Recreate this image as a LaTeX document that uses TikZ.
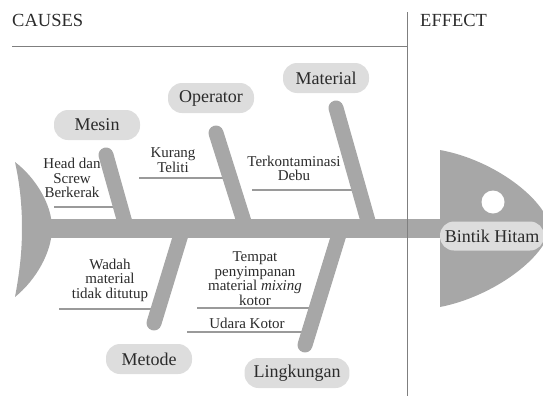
\documentclass[tikz,border=0pt]{standalone}
\usepackage{fontspec}
\setmainfont{Liberation Serif}
\usepackage{tikz}

\definecolor{bonegray}{HTML}{A7A7A7}
\definecolor{boxgray}{HTML}{DDDDDD}
\definecolor{rulegray}{HTML}{7F7F7F}
\definecolor{twiggray}{HTML}{9A9A9A}
\definecolor{inkgray}{HTML}{2B2B2B}

\begin{document}
\begin{tikzpicture}[x=1pt,y=-1pt,
  bone/.style={line width=15pt,bonegray,line cap=round},
  twig/.style={line width=1.8pt,twiggray},
  catbox/.style={fill=boxgray,rounded corners=14pt,minimum width=86pt,minimum height=30pt,
    inner xsep=9pt,font=\fontsize{18}{20}\selectfont,text=inkgray},
  causetext/.style={align=center,inner sep=0pt,font=\fontsize{15}{14.5}\selectfont,text=inkgray},
  heading/.style={anchor=base west,inner sep=0pt,font=\fontsize{18.5}{20}\selectfont,text=inkgray}]
  \clip (0,0) rectangle (543,399);

  \fill[bonegray] (15,162) .. controls (36,178) and (52,205) .. (52,228)
    .. controls (52,252) and (36,280) .. (15,297)
    .. controls (20,270) and (22,250) .. (22,228)
    .. controls (22,206) and (20,185) .. (15,162) -- cycle;
  \fill[bonegray] (440,150) .. controls (495,160) and (546,200) .. (550,228)
    .. controls (546,258) and (492,297) .. (440,307) -- cycle;
  \fill[white] (493,202) circle (11.5);

  \coordinate (tail) at (40,228.5);
  \coordinate (snout) at (445,228.5);
  \draw[line width=19pt,bonegray] (tail) -- (snout);

  \coordinate (mesin-tip) at (106,155);
  \coordinate (mesin-root) at (126.5,228);
  \coordinate (operator-tip) at (216,133);
  \coordinate (operator-root) at (246,228);
  \coordinate (material-tip) at (336,108);
  \coordinate (material-root) at (370,228);
  \coordinate (metode-tip) at (154,323);
  \coordinate (metode-root) at (183,228);
  \coordinate (lingkungan-tip) at (305,345);
  \coordinate (lingkungan-root) at (341,228);

  \coordinate (head-a) at (54,207);
  \coordinate (head-b) at (121,207);
  \coordinate (teliti-a) at (139,178);
  \coordinate (teliti-b) at (230,178);
  \coordinate (debu-a) at (252,190);
  \coordinate (debu-b) at (359,190);
  \coordinate (wadah-a) at (59,309);
  \coordinate (wadah-b) at (158,309);
  \coordinate (tempat-a) at (197,308);
  \coordinate (tempat-b) at (316,308);
  \coordinate (udara-a) at (187,332);
  \coordinate (udara-b) at (309,332);
  \draw[twig] (head-a) -- (head-b);
  \draw[twig] (teliti-a) -- (teliti-b);
  \draw[twig] (debu-a) -- (debu-b);
  \draw[twig] (wadah-a) -- (wadah-b);
  \draw[twig] (tempat-a) -- (tempat-b);
  \draw[twig] (udara-a) -- (udara-b);

  \draw[bone] (mesin-tip) -- (mesin-root);
  \draw[bone] (operator-tip) -- (operator-root);
  \draw[bone] (material-tip) -- (material-root);
  \draw[bone] (metode-tip) -- (metode-root);
  \draw[bone] (lingkungan-tip) -- (lingkungan-root);

  \draw[rulegray,line width=1pt] (12,46) -- (407,46);
  \draw[rulegray,line width=1pt] (407,12) -- (407,396);

  \node[catbox] (mesin) at (97,125) {Mesin};
  \node[catbox] (operator) at (211,98) {Operator};
  \node[catbox] (material) at (326,78) {Material};
  \node[catbox] (metode) at (149,359) {Metode};
  \node[catbox] (lingkungan) at (297,373) {Lingkungan};
  \node[catbox,minimum width=104pt,minimum height=29pt,inner xsep=3pt] (bintik) at (492,236) {Bintik Hitam};

  \node[causetext] (head) at (72,178) {Head dan\\Screw\\Berkerak};
  \node[causetext] (teliti) at (173,160) {Kurang\\Teliti};
  \node[causetext] (debu) at (294,168.5) {Terkontaminasi\\Debu};
  \node[causetext] (wadah) at (110,280) {Wadah\\material\\tidak ditutup};
  \node[causetext] (tempat) at (255,278.5) {Tempat\\penyimpanan\\material \textit{mixing}\\kotor};
  \node[causetext] (udara) at (247,323) {Udara Kotor};

  \node[heading] (causes) at (12,26) {CAUSES};
  \node[heading] (effect) at (420,26) {EFFECT};
\end{tikzpicture}
\end{document}
